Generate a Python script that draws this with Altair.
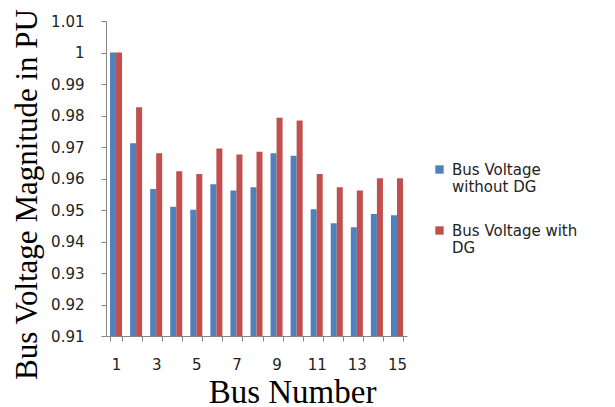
import altair as alt
import pandas as pd

buses = list(range(1, 16))
without_dg = [1.0, 0.9712, 0.9567, 0.9510, 0.9501, 0.9582, 0.9562, 0.9572,
              0.9680, 0.9672, 0.9502, 0.9458, 0.9445, 0.9487, 0.9483]
with_dg = [1.0, 0.9826, 0.9680, 0.9623, 0.9614, 0.9695, 0.9676, 0.9685,
           0.9793, 0.9784, 0.9614, 0.9572, 0.9562, 0.9601, 0.9601]
series_names = ["Bus Voltage without DG", "Bus Voltage with DG"]
series_colors = ["#4F81BD", "#C0504D"]
y_ticks = [0.91, 0.92, 0.93, 0.94, 0.95, 0.96, 0.97, 0.98, 0.99, 1.0, 1.01]

rows = []
for b, v in zip(buses, without_dg):
    rows.append({"bus": b, "series": series_names[0], "voltage": v})
for b, v in zip(buses, with_dg):
    rows.append({"bus": b, "series": series_names[1], "voltage": v})
df = pd.DataFrame(rows)

label_expr = ("datum.label == 'Bus Voltage without DG' ? ['Bus Voltage', 'without DG'] : "
              "['Bus Voltage with', 'DG']")

chart = alt.Chart(df).mark_bar(clip=True).encode(
    x=alt.X("bus:O",
            scale=alt.Scale(paddingInner=0.4, paddingOuter=0.2),
            axis=alt.Axis(title="Bus Number", labelAngle=0, tickBand="extent",
                          labelExpr="datum.value % 2 == 1 ? datum.label : ''",
                          labelPadding=16, titlePadding=4, titleFontSize=33,
                          titleX=186)),
    xOffset=alt.XOffset("series:N", sort=series_names,
                        scale=alt.Scale(paddingInner=0, paddingOuter=0)),
    y=alt.Y("voltage:Q",
            scale=alt.Scale(domain=[0.91, 1.01], zero=False, nice=False),
            axis=alt.Axis(title="Bus Voltage Magnitude in PU", values=y_ticks,
                          format=".2~f", labelPadding=17, titlePadding=7,
                          titleFontSize=31, titleY=173)),
    color=alt.Color("series:N", sort=series_names,
                    scale=alt.Scale(domain=series_names, range=series_colors),
                    legend=alt.Legend(title=None, orient="none", legendX=326, legendY=141,
                                      symbolType="square", symbolSize=70,
                                      labelExpr=label_expr, labelFont="DejaVu Sans",
                                      labelFontSize=15, labelColor="#222222",
                                      labelLimit=200, rowPadding=28, labelOffset=5)),
).properties(
    width=301, height=315,
    padding={"left": 3, "top": 0, "right": 5, "bottom": 0},
).configure_view(
    stroke=None
).configure_axis(
    grid=False,
    domainColor="#868686", tickColor="#868686", tickSize=5,
    labelFont="DejaVu Sans", labelFontSize=15, labelColor="#222222",
    titleFont="Liberation Serif", titleFontWeight="normal",
    titleColor="#000000",
)

chart.save("out.html", embed_options={"renderer": "svg", "actions": False})
